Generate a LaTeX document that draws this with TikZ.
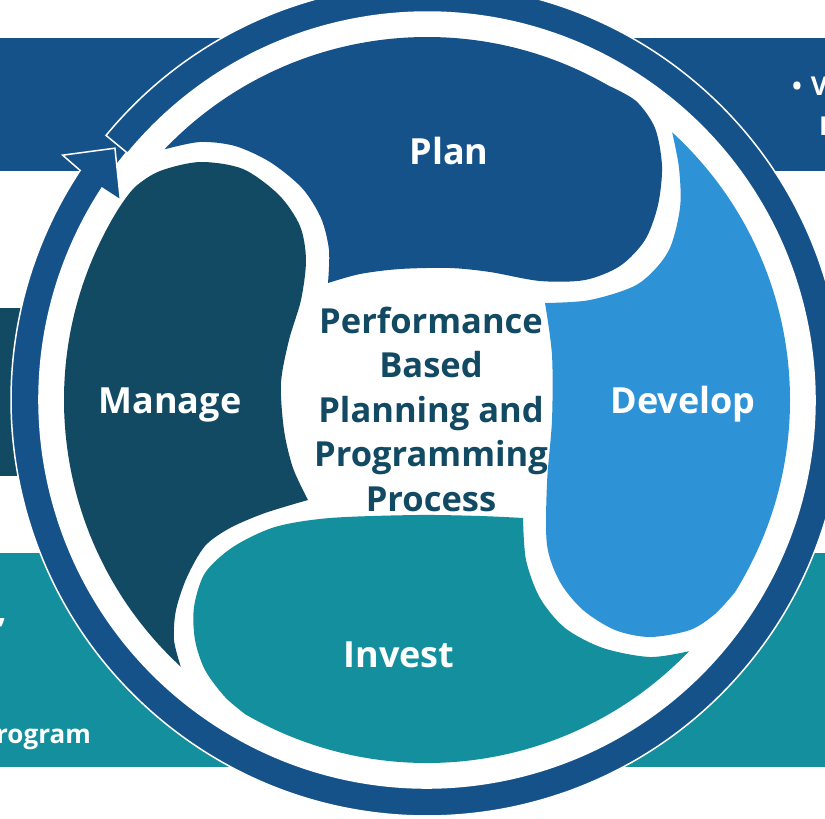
\documentclass[tikz,border=0pt]{standalone}
\usepackage{fontspec}
\setmainfont{Open Sans}
\usepackage{tikz}
\usetikzlibrary{calc}
\definecolor{planblue}{RGB}{21,82,138}
\definecolor{devblue}{RGB}{46,146,214}
\definecolor{investteal}{RGB}{19,143,157}
\definecolor{managedark}{RGB}{18,74,100}

\begin{document}
\begin{tikzpicture}[x=1pt,y=-1pt,
  lbl/.style={text=white,font=\fontsize{36}{40}\selectfont\bfseries,anchor=base},
  bandtxt/.style={text=white,font=\fontsize{26}{30}\selectfont\bfseries,inner sep=0pt},
  petal/.style={draw=none}]
\useasboundingbox (0,0) rectangle (825,819);
\clip (0,0) rectangle (825,819);
\coordinate (C) at (427,400);
% bands behind the wheel
\fill[planblue] (0,38) rectangle (825,171);
\fill[managedark] (0,308) rectangle (60,476);
\fill[investteal] (0,553) rectangle (825,767);
\node[bandtxt,anchor=base west] (topbullet) at (792,95) {•\hspace{9pt}V};
\node[bandtxt,anchor=base west] (topsecond) at (819,135) {P};
\node[bandtxt,anchor=base east,font=\fontsize{34}{38}\selectfont\bfseries] (comma) at (7,622) {,};
\node[bandtxt,anchor=base east] (program) at (91,743) {Program};
% wheel
\fill[white] (C) circle[radius=390];
\fill[planblue,draw=white,line width=1.5pt] ($(C)+(219.5:416)$) arc[start angle=219.5,end angle=573.5,radius=416]
  -- ($(C)+(573.9:439)$) -- ($(C)+(578.9:401)$) -- ($(C)+(573.1:366)$) -- ($(C)+(573.1:388)$)
  arc[start angle=573.1,end angle=219.5,radius=388] -- cycle;
% plan
\fill[planblue] ($(C)+(223.7:363)$) arc[start angle=223.7,end angle=300,radius=363]
  -- plot[smooth] coordinates {(608.5,85.6) (636,101) (655,128) (662,166) (658,205) (645,240) (620,266) (585,280) (540,281) (490,272) (450,268) (400,269) (360,274) (328,283)}
  -- plot[smooth] coordinates {(328,283) (329,250) (321,218) (302,188) (270,162) (235,146) (200,142) (164.5,149.3)} -- cycle;
% develop
\fill[devblue] ($(C)+(312.5:363)$) arc[start angle=312.5,end angle=392,radius=363]
  -- plot[smooth] coordinates {(734.8,592.4) (715,614) (690,630) (650,637) (615,630) (583,610) (560,582) (547,545) (547,483) (552,420) (552,355) (545,303)}
  -- plot[smooth] coordinates {(545,303) (590,300) (638,284) (668,252) (680,208) (679,168) (672.2,132.4)} -- cycle;
% invest
\fill[investteal] ($(C)+(43.8:363)$) arc[start angle=43.8,end angle=120,radius=363]
  -- plot[smooth] coordinates {(245.5,714.4) (225,697) (205,670) (195,640) (194,607) (205,573) (233,547) (275,527) (330,518) (417,515) (480,516) (523,518)}
  -- plot[smooth] coordinates {(523,518) (526,560) (540,598) (565,628) (603,648) (650,657) (689,651.2)} -- cycle;
% manage
\fill[managedark] ($(C)+(132.7:363)$) arc[start angle=132.7,end angle=212,radius=363]
  -- plot[smooth] coordinates {(119.2,207.6) (135,187) (160,171) (200,162) (243,169) (279,195) (300,226) (306,260) (301,300) (289,340) (281,383) (284,430) (293,468) (308,500)}
  -- plot[smooth] coordinates {(308,500) (265,513) (230,528) (205,546) (187,577) (176,610) (174,640) (180.8,666.8)} -- cycle;
% labels
\node[lbl] (plan) at (449,164) {Plan};
\node[lbl] (develop) at (683,413) {Develop};
\node[lbl] (invest) at (399,667) {Invest};
\node[lbl] (manage) at (170,413) {Manage};
\node[text=managedark,align=center,font=\fontsize{34.5}{44.5}\selectfont\bfseries] (pbpp) at (431,409)
  {Performance\\Based\\Planning and\\Programming\\Process};
\end{tikzpicture}
\end{document}
